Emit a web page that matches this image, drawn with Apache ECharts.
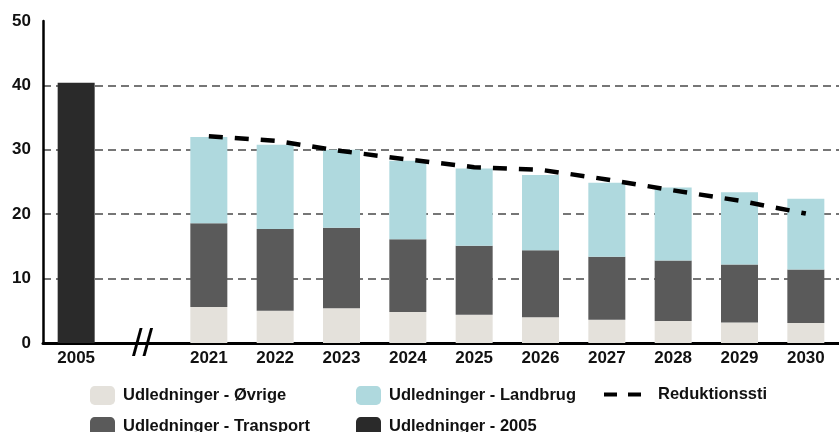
<!DOCTYPE html>
<html>
<head>
<meta charset="utf-8">
<script src="https://cdn.jsdelivr.net/npm/echarts@6/dist/echarts.min.js"></script>
<style>
  html, body { margin: 0; padding: 0; background: #fff; }
  #chart { width: 839px; height: 432px; }
</style>
</head>
<body>
<div id="chart"></div>
<script>
// kategorier (tom plads = brud på aksen)
var years = ['2005', '', '2021', '2022', '2023', '2024', '2025', '2026', '2027', '2028', '2029', '2030']

var ovrige    = ['-', '-', 5.6, 5.0, 5.4, 4.8, 4.4, 4.0, 3.6, 3.4, 3.2, 3.1]
var transport = ['-', '-', 13.0, 12.7, 12.5, 11.3, 10.7, 10.4, 9.8, 9.4, 9.0, 8.3]
var landbrug  = ['-', '-', 13.4, 13.1, 12.1, 12.2, 12.0, 11.7, 11.5, 11.35, 11.2, 11.0]
var udl2005   = [40.4, '-', '-', '-', '-', '-', '-', '-', '-', '-', '-', '-']
var reduktion = ['-', '-', 32.1, 31.4, 29.8, 28.5, 27.3, 26.9, 25.4, 23.7, 22.1, 20.1]

var font = 'Liberation Sans'

var myChart = echarts.init(document.getElementById('chart'))

// en legend pr. element, så kolonnerne står som i originalen
function legendItem(left, top, name) {
    return {
        left: left,
        top: top,
        itemWidth: 25,
        itemHeight: 19,
        selectedMode: false,
        data: [name],
        textStyle: {
            fontFamily: font,
            fontWeight: 'bold',
            fontSize: 16.5,
            color: '#111',
            padding: [0, 0, 0, 3]
        }
    }
}

var lineLegend = legendItem(597, 381, 'Reduktionssti')
lineLegend.itemWidth = 41
lineLegend.itemStyle = { opacity: 0 }
lineLegend.lineStyle = { color: '#000', width: 4, type: [13, 11] }
lineLegend.textStyle.padding = [0, 0, 0, 8]

var option = {
    animation: false,
    backgroundColor: '#fff',
    grid: { left: 43, right: -8, top: 21, bottom: 89 },
    legend: [
        legendItem(85, 381, 'Udledninger - Øvrige'),
        legendItem(85, 412, 'Udledninger - Transport'),
        legendItem(351, 381, 'Udledninger - Landbrug'),
        legendItem(351, 412, 'Udledninger - 2005'),
        lineLegend
    ],
    xAxis: [{
        type: 'category',
        data: years,
        axisLine: { lineStyle: { color: '#000', width: 3 } },
        axisTick: { show: false },
        axisLabel: {
            interval: 0,
            margin: 7,
            fontFamily: font,
            fontWeight: 'bold',
            fontSize: 17,
            color: '#111'
        }
    }, {
        // brud-tegnet "//" på x-aksen
        type: 'category',
        data: years,
        position: 'bottom',
        axisLine: { show: false },
        axisTick: { show: false },
        axisLabel: {
            interval: 0,
            margin: -16,
            fontFamily: font,
            fontSize: 38,
            color: '#000',
            formatter: function (v) { return v === '' ? '//' : '' }
        }
    }],
    yAxis: {
        type: 'value',
        min: 0,
        max: 50,
        interval: 10,
        axisLine: { show: true, lineStyle: { color: '#000', width: 2.5 } },
        axisTick: { show: false },
        axisLabel: {
            margin: 12,
            fontFamily: font,
            fontWeight: 'bold',
            fontSize: 17,
            color: '#111'
        },
        splitLine: {
            show: true,
            showMinLine: false,
            showMaxLine: false,
            lineStyle: { color: '#4a4a4a', width: 1.5, type: [8, 5] }
        }
    },
    series: [{
        name: 'Udledninger - 2005',
        type: 'bar',
        stack: 'a',
        barWidth: 37,
        data: udl2005,
        itemStyle: { color: '#2a2a2a' }
    }, {
        name: 'Udledninger - Øvrige',
        type: 'bar',
        stack: 'a',
        barWidth: 37,
        data: ovrige,
        itemStyle: { color: '#e4e1db' }
    }, {
        name: 'Udledninger - Transport',
        type: 'bar',
        stack: 'a',
        barWidth: 37,
        data: transport,
        itemStyle: { color: '#5a5a5a' }
    }, {
        name: 'Udledninger - Landbrug',
        type: 'bar',
        stack: 'a',
        barWidth: 37,
        data: landbrug,
        itemStyle: { color: '#afd9de' }
    }, {
        name: 'Reduktionssti',
        type: 'line',
        data: reduktion,
        symbol: 'none',
        z: 5,
        itemStyle: { color: '#000' },
        lineStyle: { color: '#000', width: 4.5, type: [14, 12] }
    }]
}

myChart.setOption(option)
</script>
</body>
</html>
